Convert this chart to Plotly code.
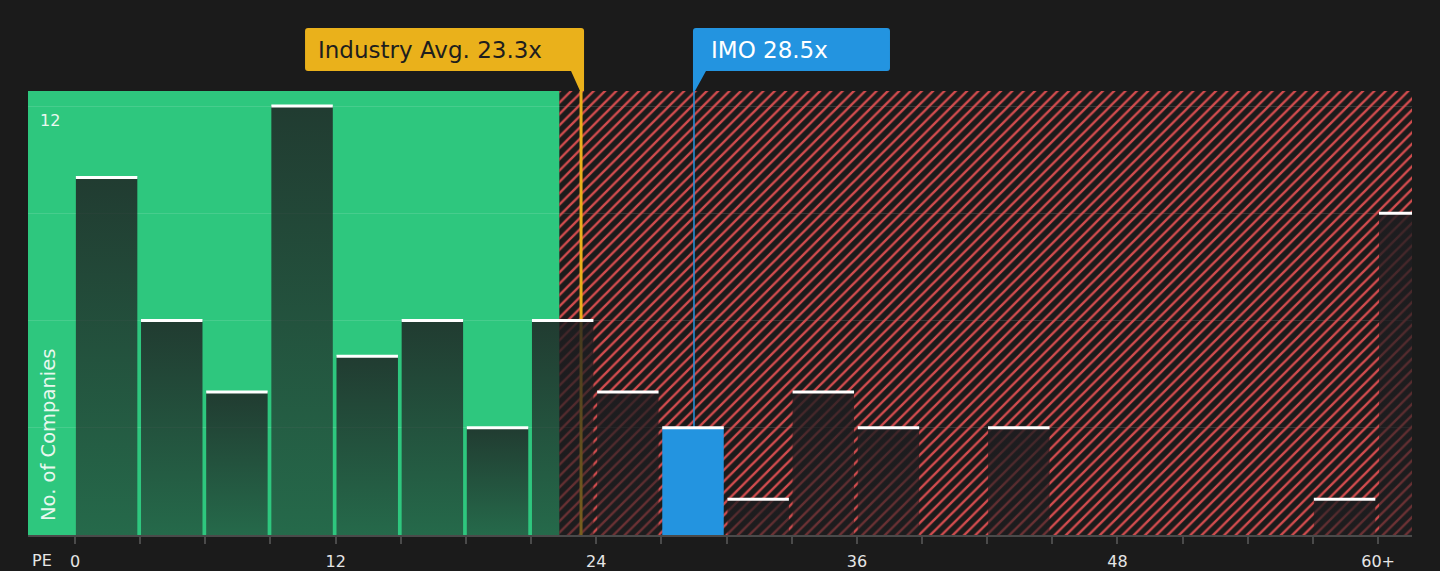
import plotly.graph_objects as go

# ---- data ----
bin_starts = [0, 3, 6, 9, 12, 15, 18, 21, 24, 27, 30, 33, 36, 39, 42, 45, 48, 51, 54, 57, 60]
counts =     [10, 6, 4, 12, 5, 6, 3, 6, 4, 3, 1, 4, 3, 0, 3, 0, 0, 0, 0, 1, 9]
bin_width = 3
company_bin = 27           # bin that holds IMO
company_name = "IMO"
company_pe = 28.5
industry_avg = 23.3
fair_upper = 22.3          # end of the green zone
x_tick_vals = list(range(0, 61, 3))
x_tick_labels = {0: "0", 12: "12", 24: "24", 36: "36", 48: "48", 60: "60+"}
y_grid_vals = [3, 6, 9, 12]
y_label_vals = {12: "12"}

# ---- styling ----
BG = "#1b1b1b"
GREEN = "#2ec77e"
RED = "#d24c4e"
GOLD = "#eab11b"
BLUE = "#2394e0"
FONT = "DejaVu Sans"

x_min, x_max = -2.164, 61.56
y_min, y_max = 0, 12.42

fig = go.Figure()

# hatched "expensive" zone (pattern bar, transparent background)
fig.add_trace(go.Bar(
    x=[(fair_upper + x_max) / 2], y=[y_max], width=[x_max - fair_upper], base=0,
    marker=dict(color="rgba(0,0,0,0)", line=dict(width=0),
                pattern=dict(shape="/", fgcolor=RED, bgcolor="rgba(0,0,0,0)",
                             size=8, solidity=0.3, fillmode="overlay", fgopacity=1)),
    hoverinfo="skip", showlegend=False))

# industry average & company lines (drawn under the bars)
fig.add_trace(go.Scatter(x=[industry_avg, industry_avg], y=[y_min, y_max], mode="lines",
                         line=dict(color=GOLD, width=3), hoverinfo="skip", showlegend=False))
fig.add_trace(go.Scatter(x=[company_pe, company_pe], y=[y_min, y_max], mode="lines",
                         line=dict(color=BLUE, width=1.5), hoverinfo="skip", showlegend=False))

# bars
gap0, gap1 = 0.04, 0.13
cap_x, cap_y = [], []
for s, c in zip(bin_starts, counts):
    if c <= 0:
        continue
    x0, x1 = s + gap0, s + bin_width - gap1
    xs = [x0, x1, x1, x0, x0]
    ys = [0, 0, c, c, 0]
    if s == company_bin:
        fig.add_trace(go.Scatter(x=xs, y=ys, mode="lines", fill="toself",
                                 fillcolor=BLUE, line=dict(width=0),
                                 hoverinfo="skip", showlegend=False))
    else:
        fig.add_trace(go.Scatter(
            x=xs, y=ys, mode="lines", fill="toself", line=dict(width=0),
            fillgradient=dict(type="vertical",
                              colorscale=[[0, "rgba(30,29,32,0.55)"], [1, "rgba(30,29,32,0.82)"]]),
            hoverinfo="skip", showlegend=False))
    cap_x += [x0, x1, None]
    cap_y += [c, c, None]

fig.add_trace(go.Scatter(x=cap_x, y=cap_y, mode="lines", line=dict(color="white", width=3),
                         hoverinfo="skip", showlegend=False))

# green "fair" zone
fig.add_shape(type="rect", xref="x", yref="paper", x0=x_min, x1=fair_upper, y0=0, y1=1,
              fillcolor=GREEN, line=dict(width=0), layer="below")

# label boxes with pointers (x in pixels relative to the value, y in paper units)
yt, yb, yp = 1.14189, 1.04505, 1.0
r, ry = 3, 3 / 444
ind_l, ind_r = -276, 3
path_ind = (f"M {ind_l + r},{yt} L {ind_r - r},{yt} Q {ind_r},{yt} {ind_r},{yt - ry} "
            f"L {ind_r},{yp} L -1,{yp} L -10,{yb} L {ind_l + r},{yb} "
            f"Q {ind_l},{yb} {ind_l},{yb + ry} L {ind_l},{yt - ry} Q {ind_l},{yt} {ind_l + r},{yt} Z")
fig.add_shape(type="path", xref="x", yref="paper", xsizemode="pixel", xanchor=industry_avg,
              path=path_ind, fillcolor=GOLD, line=dict(width=0), layer="above")

imo_l, imo_r = -1, 196
path_imo = (f"M {imo_l},{yt - ry} Q {imo_l},{yt} {imo_l + r},{yt} L {imo_r - r},{yt} "
            f"Q {imo_r},{yt} {imo_r},{yt - ry} L {imo_r},{yb + ry} Q {imo_r},{yb} {imo_r - r},{yb} "
            f"L 12,{yb} L 1,{yp} L {imo_l},{yp} Z")
fig.add_shape(type="path", xref="x", yref="paper", xsizemode="pixel", xanchor=company_pe,
              path=path_imo, fillcolor=BLUE, line=dict(width=0), layer="above")

fig.add_annotation(x=industry_avg, y=1.0923, xref="x", yref="paper", xshift=-265,
                   xanchor="left", yanchor="middle", showarrow=False,
                   text=f"Industry Avg. {industry_avg}x",
                   font=dict(family=FONT, size=23, color="#1e1e1e"))
fig.add_annotation(x=company_pe, y=1.0923, xref="x", yref="paper", xshift=15,
                   xanchor="left", yanchor="middle", showarrow=False,
                   text=f"{company_name} {company_pe}x",
                   font=dict(family=FONT, size=23, color="white"))

# axis captions
fig.add_annotation(x=0.01445, y=0.027, xref="paper", yref="paper", xanchor="center",
                   yanchor="bottom", textangle=-90, showarrow=False, text="No. of Companies",
                   font=dict(family=FONT, size=19.5, color="#e8f7ee"))
fig.add_annotation(x=0.0101, y=-0.058, xref="paper", yref="paper", xanchor="center",
                   yanchor="middle", showarrow=False, text="PE", borderpad=0,
                   font=dict(family=FONT, size=16, color="#e6e6e6"))

fig.update_layout(
    width=1440, height=571,
    margin=dict(l=28, r=28, t=91, b=36),
    paper_bgcolor=BG, plot_bgcolor=BG,
    showlegend=False, barmode="overlay",
    font=dict(family=FONT, color="#e6e6e6"),
    xaxis=dict(range=[x_min, x_max], tickvals=x_tick_vals,
               ticktext=[x_tick_labels.get(v, "") for v in x_tick_vals],
               showgrid=False, zeroline=False, showline=True, linecolor="#4a4a4a", linewidth=2,
               ticks="outside", ticklen=7, tickcolor="#4a4a4a", tickwidth=1.5,
               ticklabelstandoff=4,
               tickfont=dict(family=FONT, size=16, color="#e6e6e6"), fixedrange=True,
               automargin=False),
    yaxis=dict(range=[y_min, y_max], tickvals=y_grid_vals,
               ticktext=[y_label_vals.get(v, "") for v in y_grid_vals],
               ticklabelposition="inside bottom", ticklabelstandoff=9, ticklabelshift=3,
               showgrid=True,
               gridcolor="rgba(255,255,255,0.12)", gridwidth=1, zeroline=False,
               showline=False, ticks="", tickfont=dict(family=FONT, size=16, color="#eaf8f0"),
               fixedrange=True, automargin=False),
)

fig.write_html("out.html", config={"displayModeBar": False},
               post_script="document.body.style.margin='0';document.body.style.overflow='hidden';")
